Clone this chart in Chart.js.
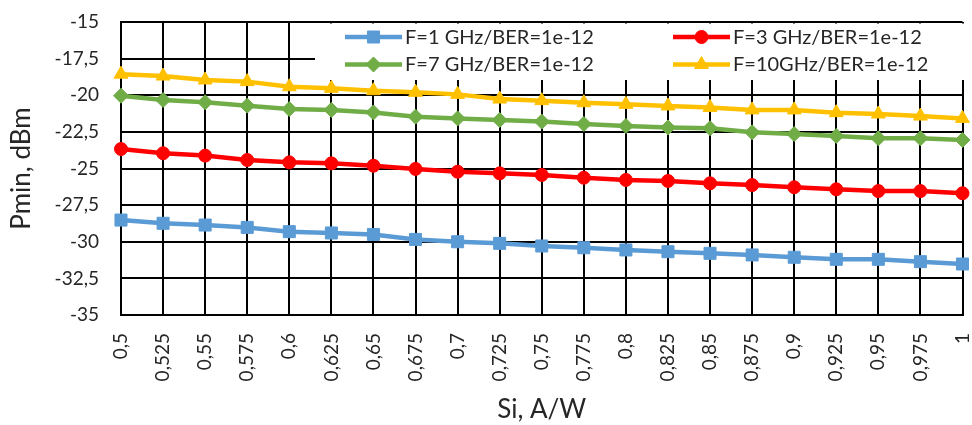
<!DOCTYPE html>
<html>
<head>
<meta charset="utf-8">
<title>Pmin vs Si</title>
<script src="https://cdn.jsdelivr.net/npm/chart.js@4.4.1/dist/chart.umd.min.js"></script>
<style>
  html, body { margin: 0; padding: 0; background: #ffffff; }
  #wrap { width: 972px; height: 425px; overflow: hidden; }
</style>
</head>
<body>
<div id="wrap"><canvas id="chart" width="972" height="425"></canvas></div>
<script>
// Responsivity Si, A/W
const categories = ['0,5', '0,525', '0,55', '0,575', '0,6', '0,625', '0,65', '0,675', '0,7', '0,725',
  '0,75', '0,775', '0,8', '0,825', '0,85', '0,875', '0,9', '0,925', '0,95', '0,975', '1'];

// Receiver sensitivity Pmin, dBm, BER = 1e-12
const pmin1GHz  = [-28.52, -28.74, -28.86, -29.02, -29.31, -29.40, -29.50, -29.84, -30.00, -30.11,
  -30.29, -30.41, -30.56, -30.68, -30.79, -30.90, -31.06, -31.20, -31.20, -31.36, -31.52];
const pmin3GHz  = [-23.67, -23.96, -24.12, -24.42, -24.58, -24.65, -24.81, -25.03, -25.22, -25.33,
  -25.44, -25.63, -25.78, -25.85, -26.01, -26.13, -26.28, -26.42, -26.54, -26.54, -26.69];
const pmin7GHz  = [-20.03, -20.32, -20.48, -20.71, -20.94, -21.00, -21.17, -21.46, -21.58, -21.69,
  -21.80, -21.96, -22.10, -22.20, -22.25, -22.53, -22.65, -22.78, -22.94, -22.94, -23.05];
const pmin10GHz = [-18.56, -18.69, -18.96, -19.07, -19.42, -19.53, -19.69, -19.80, -19.94, -20.26,
  -20.37, -20.51, -20.62, -20.73, -20.83, -21.00, -21.00, -21.19, -21.28, -21.42, -21.58];

const seriesLabels = ['F=1 GHz/BER=1e-12', 'F=3 GHz/BER=1e-12', 'F=7 GHz/BER=1e-12', 'F=10GHz/BER=1e-12'];

// Y axis range and step
const yMin = -35, yMax = -15, yStep = 2.5;

const FONT = 'Lato, "Open Sans", sans-serif';
const TEXT = '#262626';

function series(label, data, color, style, radius) {
  return {
    label, data,
    borderColor: color, backgroundColor: color,
    borderWidth: 4.5,
    pointStyle: style, pointRadius: radius, pointHoverRadius: radius,
    pointBorderColor: color, pointBackgroundColor: color, pointBorderWidth: 1,
    tension: 0, fill: false, clip: 12
  };
}

// Marker painter shared by the legend
function marker(ctx, style, r, x, y, color) {
  ctx.save();
  ctx.fillStyle = color; ctx.strokeStyle = color; ctx.lineWidth = 1;
  ctx.beginPath();
  if (style === 'rect') {
    const s = Math.SQRT1_2 * r;
    ctx.rect(x - s, y - s, 2 * s, 2 * s);
  } else if (style === 'circle') {
    ctx.arc(x, y, r, 0, Math.PI * 2);
  } else if (style === 'rectRot') {
    ctx.moveTo(x - r, y); ctx.lineTo(x, y - r); ctx.lineTo(x + r, y); ctx.lineTo(x, y + r);
    ctx.closePath();
  } else if (style === 'triangle') {
    ctx.moveTo(x, y - r);
    ctx.lineTo(x + 0.866 * r, y + r / 2);
    ctx.lineTo(x - 0.866 * r, y + r / 2);
    ctx.closePath();
  }
  ctx.fill(); ctx.stroke();
  ctx.restore();
}

// Two-column legend sitting on a white panel inside the plot area
const insetLegend = {
  id: 'insetLegend',
  beforeDatasetsDraw(chart) {
    const ctx = chart.ctx;
    const ca = chart.chartArea;
    ctx.save();
    ctx.fillStyle = '#ffffff';
    ctx.fillRect(315, ca.top + 1.5, 651, 80 - ca.top - 1.5);
    const cols = [345, 673], rows = [37, 64.5];
    chart.data.datasets.forEach((ds, i) => {
      const x0 = cols[i % 2], y = rows[Math.floor(i / 2)];
      ctx.strokeStyle = ds.borderColor;
      ctx.lineWidth = ds.borderWidth;
      ctx.beginPath(); ctx.moveTo(x0, y); ctx.lineTo(x0 + 57, y); ctx.stroke();
      marker(ctx, ds.pointStyle, ds.pointRadius, x0 + 28.5, y, ds.borderColor);
      ctx.fillStyle = TEXT;
      ctx.font = '20px ' + FONT;
      ctx.textBaseline = 'middle';
      ctx.textAlign = 'left';
      ctx.fillText(ds.label, x0 + 60, y + 0.5);
    });
    ctx.restore();
  }
};

new Chart(document.getElementById('chart'), {
  type: 'line',
  data: {
    labels: categories,
    datasets: [
      series(seriesLabels[0], pmin1GHz, '#5B9BD5', 'rect', 8.5),
      series(seriesLabels[1], pmin3GHz, '#FF0000', 'circle', 6.5),
      series(seriesLabels[2], pmin7GHz, '#70AD47', 'rectRot', 7.5),
      series(seriesLabels[3], pmin10GHz, '#FFC000', 'triangle', 8)
    ]
  },
  options: {
    responsive: false,
    animation: false,
    devicePixelRatio: 1,
    layout: { padding: { top: 22, right: 2, bottom: 0, left: 0 } },
    plugins: { legend: { display: false }, tooltip: { enabled: false } },
    scales: {
      x: {
        type: 'category',
        offset: false,
        grid: { color: '#000000', lineWidth: 2, drawTicks: false },
        border: { color: '#000000', width: 2 },
        ticks: {
          autoSkip: false, minRotation: 90, maxRotation: 90,
          padding: 18, color: TEXT, font: { family: FONT, size: 19 }
        },
        title: {
          display: true, text: 'Si, A/W', color: TEXT,
          font: { family: FONT, size: 26 }, padding: { top: 0, bottom: 0 }
        },
        afterFit(scale) { scale.height = 110; scale.paddingLeft = 0; scale.paddingRight = 0; }
      },
      y: {
        min: yMin, max: yMax,
        grid: { color: '#000000', lineWidth: 2, drawTicks: false },
        border: { color: '#000000', width: 2 },
        ticks: {
          stepSize: yStep, padding: 22, color: TEXT, font: { family: FONT, size: 19 },
          callback: v => String(v).replace('.', ',')
        },
        title: {
          display: true, text: 'Pmin, dBm', color: TEXT,
          font: { family: FONT, size: 26 }, padding: { top: 6, bottom: 0 }
        },
        afterFit(scale) { scale.width = 121; scale.paddingTop = 0; scale.paddingBottom = 0; }
      }
    }
  },
  plugins: [insetLegend]
});
</script>
</body>
</html>
